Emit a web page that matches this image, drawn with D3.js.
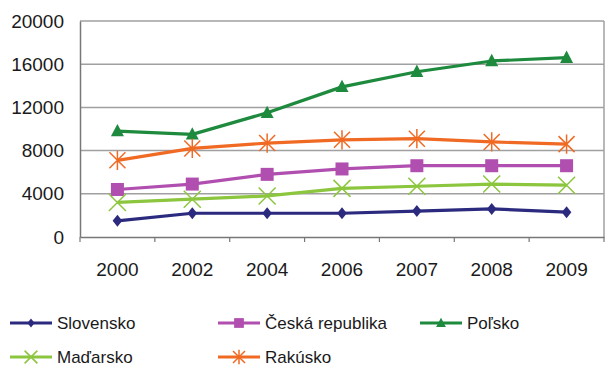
<!DOCTYPE html>
<html><head><meta charset="utf-8">
<script src="https://cdn.jsdelivr.net/npm/d3@7"></script>
<style>body{margin:0;background:#fff}svg{display:block}text{font-family:"Liberation Sans",Arial,sans-serif;fill:#1a1a1a}</style>
</head><body><svg id="c" width="608" height="369"></svg>
<script>
const years = ["2000","2002","2004","2006","2007","2008","2009"];
const yTicks = [0,4000,8000,12000,16000,20000];
const seriesNames = ["Slovensko","Česká republika","Poľsko","Maďarsko","Rakúsko"];
const slovensko = [1500,2200,2200,2200,2400,2600,2300];
const ceska = [4400,4900,5800,6300,6600,6600,6600];
const polsko = [9800,9500,11500,13900,15300,16300,16600];
const madarsko = [3200,3500,3800,4500,4700,4900,4800];
const rakusko = [7100,8200,8700,9000,9100,8800,8600];
const colors = ["#2b2a7e","#b04fb0","#1d8a3e","#8cc63e","#f06a24"];
const markers = ["diamond","square","triangle","x","asterisk"];
const values = [slovensko, ceska, polsko, madarsko, rakusko];

const svg = d3.select("#c");
const L=80, R=604, T=21, B=237;
const x = d3.scaleBand().domain(years).range([L,R]);
const y = d3.scaleLinear().domain([0,20000]).range([B,T]);

svg.append("g").selectAll("line").data(yTicks.filter(d=>d>0)).join("line")
  .attr("x1",L).attr("x2",R).attr("y1",d=>y(d)).attr("y2",d=>y(d))
  .attr("stroke","#a0a0a0").attr("stroke-width",1.5);
svg.append("line").attr("x1",R).attr("x2",R).attr("y1",T).attr("y2",B).attr("stroke","#a0a0a0").attr("stroke-width",1.5);

const ya = svg.append("g").attr("transform",`translate(${L},0)`)
  .call(d3.axisLeft(y).tickValues(yTicks).tickSize(0).tickPadding(16).tickFormat(d3.format("d")));
ya.select(".domain").attr("stroke","#777").attr("stroke-width",1.5);
ya.selectAll("text").style("font-size","19px").attr("fill","#1a1a1a");

const xa = svg.append("g").attr("transform",`translate(0,${B})`)
  .call(d3.axisBottom(x).tickSize(0).tickPadding(26));
xa.select(".domain").attr("stroke","#777").attr("stroke-width",1.5);
xa.selectAll("text").style("font-size","19px").attr("fill","#1a1a1a");
svg.append("g").selectAll("line").data(d3.range(years.length+1)).join("line")
  .attr("x1",i=>L+x.step()*i).attr("x2",i=>L+x.step()*i)
  .attr("y1",B).attr("y2",B+5).attr("stroke","#777").attr("stroke-width",1.2);

function drawMarker(g, type, color, cx, cy, s){
  if(type==="diamond"){
    g.append("path").attr("d",`M${cx},${cy-s}L${cx+s*0.8},${cy}L${cx},${cy+s}L${cx-s*0.8},${cy}Z`).attr("fill",color);
  } else if(type==="square"){
    g.append("rect").attr("x",cx-s).attr("y",cy-s).attr("width",2*s).attr("height",2*s).attr("fill",color);
  } else if(type==="triangle"){
    g.append("path").attr("d",`M${cx},${cy-s*1.1}L${cx+s},${cy+s*0.8}L${cx-s},${cy+s*0.8}Z`).attr("fill",color);
  } else if(type==="x"){
    g.append("path").attr("d",`M${cx-s},${cy-s}L${cx+s},${cy+s}M${cx-s},${cy+s}L${cx+s},${cy-s}`).attr("stroke",color).attr("stroke-width",1.5);
  } else if(type==="asterisk"){
    g.append("path").attr("d",`M${cx-s},${cy-s}L${cx+s},${cy+s}M${cx-s},${cy+s}L${cx+s},${cy-s}M${cx},${cy-s*1.2}L${cx},${cy+s*1.2}`).attr("stroke",color).attr("stroke-width",1.5);
  }
}
const sizes = {diamond:6, square:6.5, triangle:6.5, x:8.5, asterisk:8};

const line = d3.line().x((d,i)=>x(years[i])+x.bandwidth()/2).y(d=>y(d));
values.forEach((vals,si)=>{
  const g = svg.append("g");
  g.append("path").datum(vals).attr("d",line).attr("fill","none")
    .attr("stroke",colors[si]).attr("stroke-width",3.2).attr("stroke-linejoin","round");
  vals.forEach((v,i)=>drawMarker(g, markers[si], colors[si], x(years[i])+x.bandwidth()/2, y(v), sizes[markers[si]]));
});

const legPos = [[10,323],[218,323],[420,323],[10,357],[218,357]];
seriesNames.forEach((n,si)=>{
  const [lx,ly] = legPos[si];
  const g = svg.append("g");
  g.append("line").attr("x1",lx).attr("x2",lx+42).attr("y1",ly).attr("y2",ly).attr("stroke",colors[si]).attr("stroke-width",3.2);
  drawMarker(g, markers[si], colors[si], lx+21, ly, sizes[markers[si]]*0.75);
  g.append("text").attr("x",lx+47).attr("y",ly+6).text(n).style("font-size","17px");
});
</script></body></html>
